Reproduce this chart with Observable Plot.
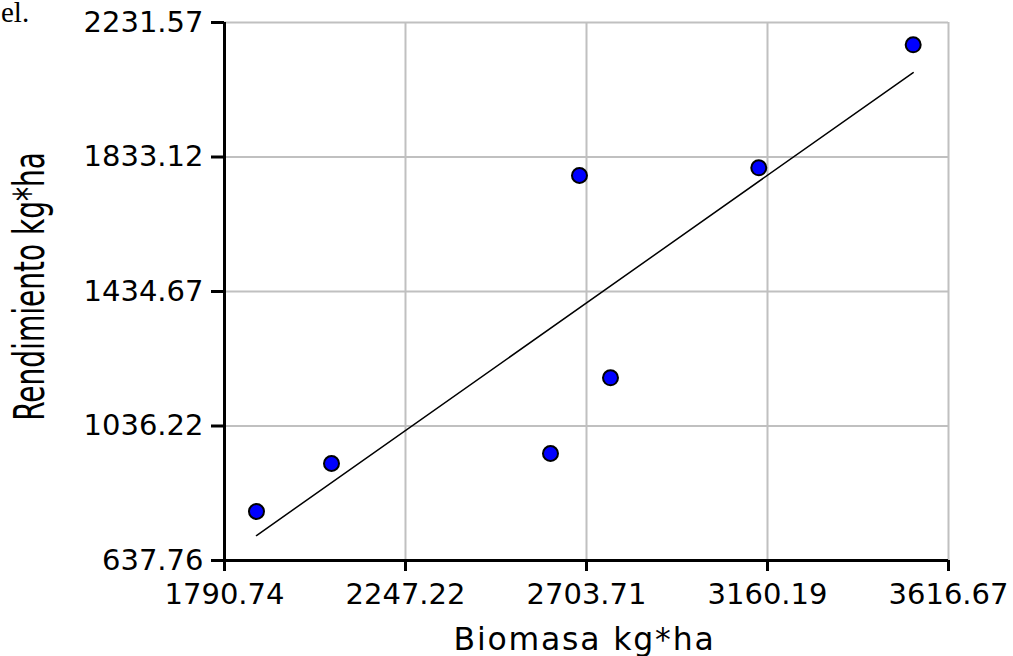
<!DOCTYPE html>
<html>
<head>
<meta charset="utf-8">
<script src="https://cdn.jsdelivr.net/npm/d3@7"></script>
<script src="https://cdn.jsdelivr.net/npm/@observablehq/plot@0.6"></script>
<style>
  html, body { margin: 0; padding: 0; background: #fff; }
  #wrap { position: relative; width: 1013px; height: 656px; overflow: hidden; }
  #frag { position: absolute; left: 1px; top: 0; font-family: "Liberation Serif", serif; font-size: 29px; line-height: 24px; color: #000; }
  #chart { position: absolute; left: 0; top: 0; }
</style>
</head>
<body>
<div id="wrap">
  <div id="chart"></div>
  <div id="frag">el.</div>
</div>
<script>
// Biomasa vs. rendimiento (kg*ha), one point per plot
const biomasa     = [1871.4, 2060.6, 2612.9, 2686.0, 2764.2, 3138.2, 3527.6];
const rendimiento = [782.9,  925.1,  954.8,  1778.3, 1179.0, 1801.1, 2165.5];

// Axis ticks (also the axis extents)
const xTicks = [1790.74, 2247.22, 2703.71, 3160.19, 3616.67];
const yTicks = [637.76, 1036.22, 1434.67, 1833.12, 2231.57];

const xTitle = "Biomasa kg*ha";
const yTitle = "Rendimiento kg*ha";

const points = biomasa.map((x, i) => ({x, y: rendimiento[i]}));
const fmt = d => d.toFixed(2);

const chart = Plot.plot({
  width: 1013,
  height: 656,
  marginLeft: 224,
  marginRight: 65,
  marginTop: 22,
  marginBottom: 96,
  style: {
    fontFamily: "DejaVu Sans, sans-serif",
    fontSize: "29px",
    color: "#000",
    background: "transparent",
    overflow: "visible"
  },
  x: {domain: [xTicks[0], xTicks[xTicks.length - 1]]},
  y: {domain: [yTicks[0], yTicks[yTicks.length - 1]]},
  marks: [
    Plot.gridX(xTicks, {stroke: "#c0c0c0", strokeOpacity: 1, strokeWidth: 2}),
    Plot.gridY(yTicks, {stroke: "#c0c0c0", strokeOpacity: 1, strokeWidth: 2}),
    Plot.axisX(xTicks, {tickSize: 11, tickPadding: 12, tickFormat: fmt, strokeWidth: 3, label: null}),
    Plot.axisY(yTicks, {tickSize: 13, tickPadding: 8, tickFormat: fmt, strokeWidth: 3, label: null}),
    Plot.ruleX([xTicks[0]], {stroke: "#000", strokeWidth: 3}),
    Plot.ruleY([yTicks[0]], {stroke: "#000", strokeWidth: 3}),
    // least-squares fit through the points
    Plot.linearRegressionY(points, {x: "x", y: "y", stroke: "#000", strokeWidth: 1.5, ci: 0}),
    Plot.dot(points, {x: "x", y: "y", r: 7.5, fill: "#0000ff", stroke: "#000", strokeWidth: 2}),
    Plot.text([xTitle], {text: d => d, frameAnchor: "bottom", textAnchor: "middle", lineAnchor: "middle", dx: -2, dy: 79, fontSize: 31.5, fill: "#000"}),
    Plot.text([yTitle], {text: d => d, frameAnchor: "left", textAnchor: "middle", lineAnchor: "middle", dx: -194, dy: -5, rotate: -90, fontSize: 30, fill: "#000"})
  ]
});

document.getElementById("chart").appendChild(chart);

// title lettering: the horizontal title is slightly spaced out, the vertical one
// is condensed along its length and tall across it
chart.querySelectorAll("text").forEach(t => {
  if (t.textContent === xTitle) {
    t.style.letterSpacing = "1.8px";
  }
  if (t.textContent === yTitle) {
    const tr = t.getAttribute("transform") || "";
    t.setAttribute("transform", tr + " scale(0.934,1.43)");
  }
});
</script>
</body>
</html>
